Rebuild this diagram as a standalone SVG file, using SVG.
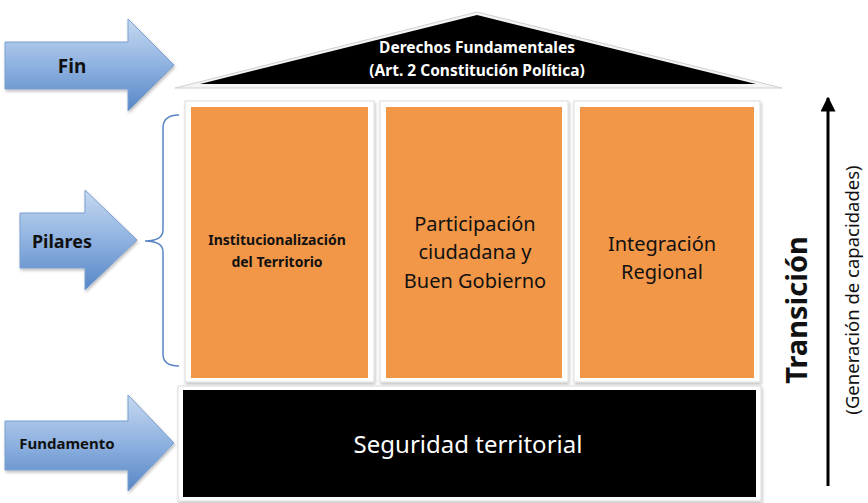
<svg xmlns="http://www.w3.org/2000/svg" width="868" height="503" viewBox="0 0 868 503">
<defs>
<linearGradient id="blue" x1="0" y1="0" x2="0" y2="1">
<stop offset="0" stop-color="#c6d9f1"/>
<stop offset="0.5" stop-color="#8fb2e0"/>
<stop offset="1" stop-color="#5686c6"/>
</linearGradient>
<filter id="sh" x="-5%" y="-5%" width="110%" height="110%">
<feDropShadow dx="1" dy="2" stdDeviation="1.5" flood-color="#000" flood-opacity="0.25"/>
</filter>
<marker id="ah" viewBox="0 0 10 10" refX="9" refY="5" markerWidth="5" markerHeight="5" orient="auto">
<path d="M0,0 L10,5 L0,10 z" fill="#000"/>
</marker>
</defs>
<style>
.arr{fill:url(#blue);stroke:#7a9fd0;stroke-width:1}
.lbl{font-family:"Noto Sans","Open Sans",sans-serif;font-weight:bold;fill:#111;text-anchor:middle}
.frame{fill:#fff;stroke:#dcdcdc;stroke-width:1}
.pil{fill:#f29748}
.ptxt{font-family:"Noto Sans","Open Sans",sans-serif;fill:#111;text-anchor:middle}
.wt{font-family:"Noto Sans","Open Sans",sans-serif;fill:#fff;text-anchor:middle}
</style>
<rect width="868" height="503" fill="#fff"/>

<g id="fin">
<path class="arr" d="M5,42 L128,42 L128,19 L174,65 L128,111 L128,89 L5,89 Z" filter="url(#sh)"/>
<text class="lbl" x="72" y="73" font-size="19">Fin</text>
</g>

<g id="pilares">
<path class="arr" d="M20,213 L85,213 L85,190 L137,240 L85,290 L85,268 L20,268 Z" filter="url(#sh)"/>
<text class="lbl" x="62" y="248" font-size="18">Pilares</text>
</g>

<g id="fundamento">
<path class="arr" d="M5,421 L128,421 L128,395 L174,443 L128,491 L128,470 L5,470 Z" filter="url(#sh)"/>
<text class="lbl" x="67" y="449" font-size="15">Fundamento</text>
</g>

<g id="roof">
<polygon points="175,88 477,12 782,88" fill="#f4f4f4" stroke="#d0d0d0" stroke-width="1"/>
<polygon points="200,84 477,15 756,84" fill="#000"/>
<text class="wt" x="477" y="53" font-size="15.5" font-weight="bold">Derechos Fundamentales</text>
<text class="wt" x="477" y="76" font-size="15.5" font-weight="bold">(Art. 2 Constitución Política)</text>
</g>

<g id="brace">
<path d="M179,115 Q163,115 163,128 L163,230 Q163,241 145,241 Q163,241 163,252 L163,354 Q163,366 179,366" fill="none" stroke="#5b86c4" stroke-width="1.5"/>
</g>

<g id="pilar1">
<rect class="frame" x="185" y="101" width="189" height="281" filter="url(#sh)"/>
<rect class="pil" x="191" y="107" width="177" height="271"/>
<text class="ptxt" x="277" y="245" font-size="14" font-weight="bold">Institucionalización</text>
<text class="ptxt" x="277" y="267" font-size="14" font-weight="bold">del Territorio</text>
</g>

<g id="pilar2">
<rect class="frame" x="380" y="101" width="188" height="281" filter="url(#sh)"/>
<rect class="pil" x="386" y="107" width="176" height="271"/>
<text class="ptxt" x="475" y="231" font-size="20">Participación</text>
<text class="ptxt" x="475" y="259" font-size="20">ciudadana y</text>
<text class="ptxt" x="475" y="288" font-size="20">Buen Gobierno</text>
</g>

<g id="pilar3">
<rect class="frame" x="574" y="101" width="186" height="281" filter="url(#sh)"/>
<rect class="pil" x="580" y="107" width="174" height="271"/>
<text class="ptxt" x="662" y="251" font-size="20">Integración</text>
<text class="ptxt" x="662" y="279" font-size="20">Regional</text>
</g>

<g id="base">
<rect class="frame" x="178" y="386" width="583" height="115" filter="url(#sh)"/>
<rect x="183" y="390" width="573" height="107" fill="#000"/>
<text class="wt" x="468" y="453" font-size="24">Seguridad territorial</text>
</g>

<g id="connectors">
<line x1="828" y1="486" x2="828" y2="98" stroke="#000" stroke-width="3" marker-end="url(#ah)"/>
</g>

<g id="transicion">
<text class="ptxt" transform="translate(807,310) rotate(-90)" font-size="29" font-weight="bold">Transición</text>
<text class="ptxt" transform="translate(859,290) rotate(-90)" font-size="18.5">(Generación de capacidades)</text>
</g>
</svg>
